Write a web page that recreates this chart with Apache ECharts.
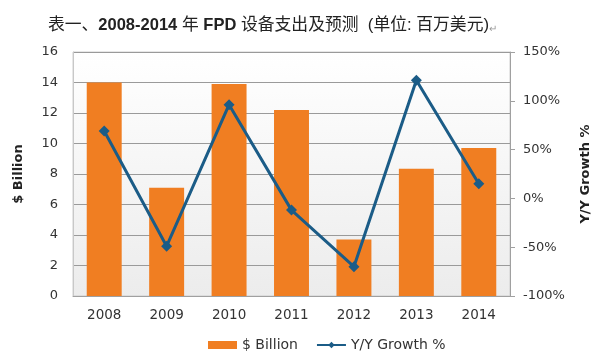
<!DOCTYPE html>
<html><head><meta charset="utf-8">
<script src="https://cdn.jsdelivr.net/npm/echarts@6/dist/echarts.min.js"></script>
<style>html,body{margin:0;padding:0;background:#fff}#c{width:600px;height:361px}</style>
</head><body><div id="c"></div>
<script>
var categories = ['2008','2009','2010','2011','2012','2013','2014'];
var billion = [14.0, 7.1, 13.9, 12.2, 3.7, 8.35, 9.7];
var growth = [69, -49, 96, -12, -70, 121, 15];
var leftTicks = [0, 16, 2];
var rightTicks = [-100, 150, 50];

var chart = echarts.init(document.getElementById('c'));
var txt = '#333';
var ff = 'DejaVu Sans, Verdana, sans-serif';
var tf = 'Liberation Sans, Noto Sans CJK SC, sans-serif';
chart.setOption({
  animation: false,
  title: {
    text: '表一、{b|2008-2014} 年 {b|FPD} 设备支出及预测  (单位: 百万美元){p|↵}',
    left: 43, top: 12,
    textStyle: { fontSize: 16.8, fontWeight: 'normal', color: '#222', fontFamily: tf,
      rich: { b: { fontSize: 16.5, fontWeight: 'bold', color: '#222', fontFamily: tf },
              p: { fontSize: 10, color: '#999', verticalAlign: 'bottom' } } }
  },
  grid: {
    left: 73, right: 80, top: 52, bottom: 65, show: true, borderColor: '#cfcfcf', borderWidth: 1,
    backgroundColor: new echarts.graphic.LinearGradient(0, 0, 0, 1, [
      { offset: 0, color: '#ffffff' }, { offset: 1, color: '#ececec' }])
  },
  legend: {
    bottom: 4, left: 203, itemWidth: 29, itemHeight: 8, itemGap: 18,
    textStyle: { fontSize: 14, color: txt, fontFamily: ff },
    data: [{ name: '$ Billion', icon: 'rect' }, { name: 'Y/Y Growth %' }]
  },
  xAxis: {
    type: 'category', data: categories,
    axisLine: { lineStyle: { color: '#a0a0a0' } },
    axisTick: { show: false },
    axisLabel: { fontSize: 13.5, color: txt, fontFamily: ff, margin: 12 }
  },
  yAxis: [{
    type: 'value', min: leftTicks[0], max: leftTicks[1], interval: leftTicks[2],
    name: '$ Billion', nameLocation: 'middle', nameGap: 48, nameRotate: 90,
    nameTextStyle: { fontSize: 13, fontWeight: 'bold', color: '#222', fontFamily: ff },
    axisLine: { show: true, lineStyle: { color: '#c8c8c8' } },
    axisTick: { show: false },
    axisLabel: { fontSize: 13, color: txt, fontFamily: ff, margin: 15 },
    splitLine: { lineStyle: { color: '#9a9a9a', width: 1 } }
  }, {
    type: 'value', min: rightTicks[0], max: rightTicks[1], interval: rightTicks[2],
    name: 'Y/Y Growth %', nameLocation: 'middle', nameGap: 69, nameRotate: 90,
    nameTextStyle: { fontSize: 13, fontWeight: 'bold', color: '#222', fontFamily: ff },
    axisLine: { show: true, lineStyle: { color: '#a0a0a0' } },
    axisTick: { show: true, length: 5, lineStyle: { color: '#a0a0a0' } },
    axisLabel: { fontSize: 13, color: txt, fontFamily: ff, margin: 13, formatter: '{value}%' },
    splitLine: { show: false }
  }],
  series: [{
    name: '$ Billion', type: 'bar', data: billion, barWidth: '56%',
    itemStyle: { color: '#F07E22' }
  }, {
    name: 'Y/Y Growth %', type: 'line', yAxisIndex: 1, data: growth,
    symbol: 'diamond', symbolSize: 11,
    lineStyle: { color: '#1B5C87', width: 3 },
    itemStyle: { color: '#1B5C87' }
  }]
});
</script></body></html>
